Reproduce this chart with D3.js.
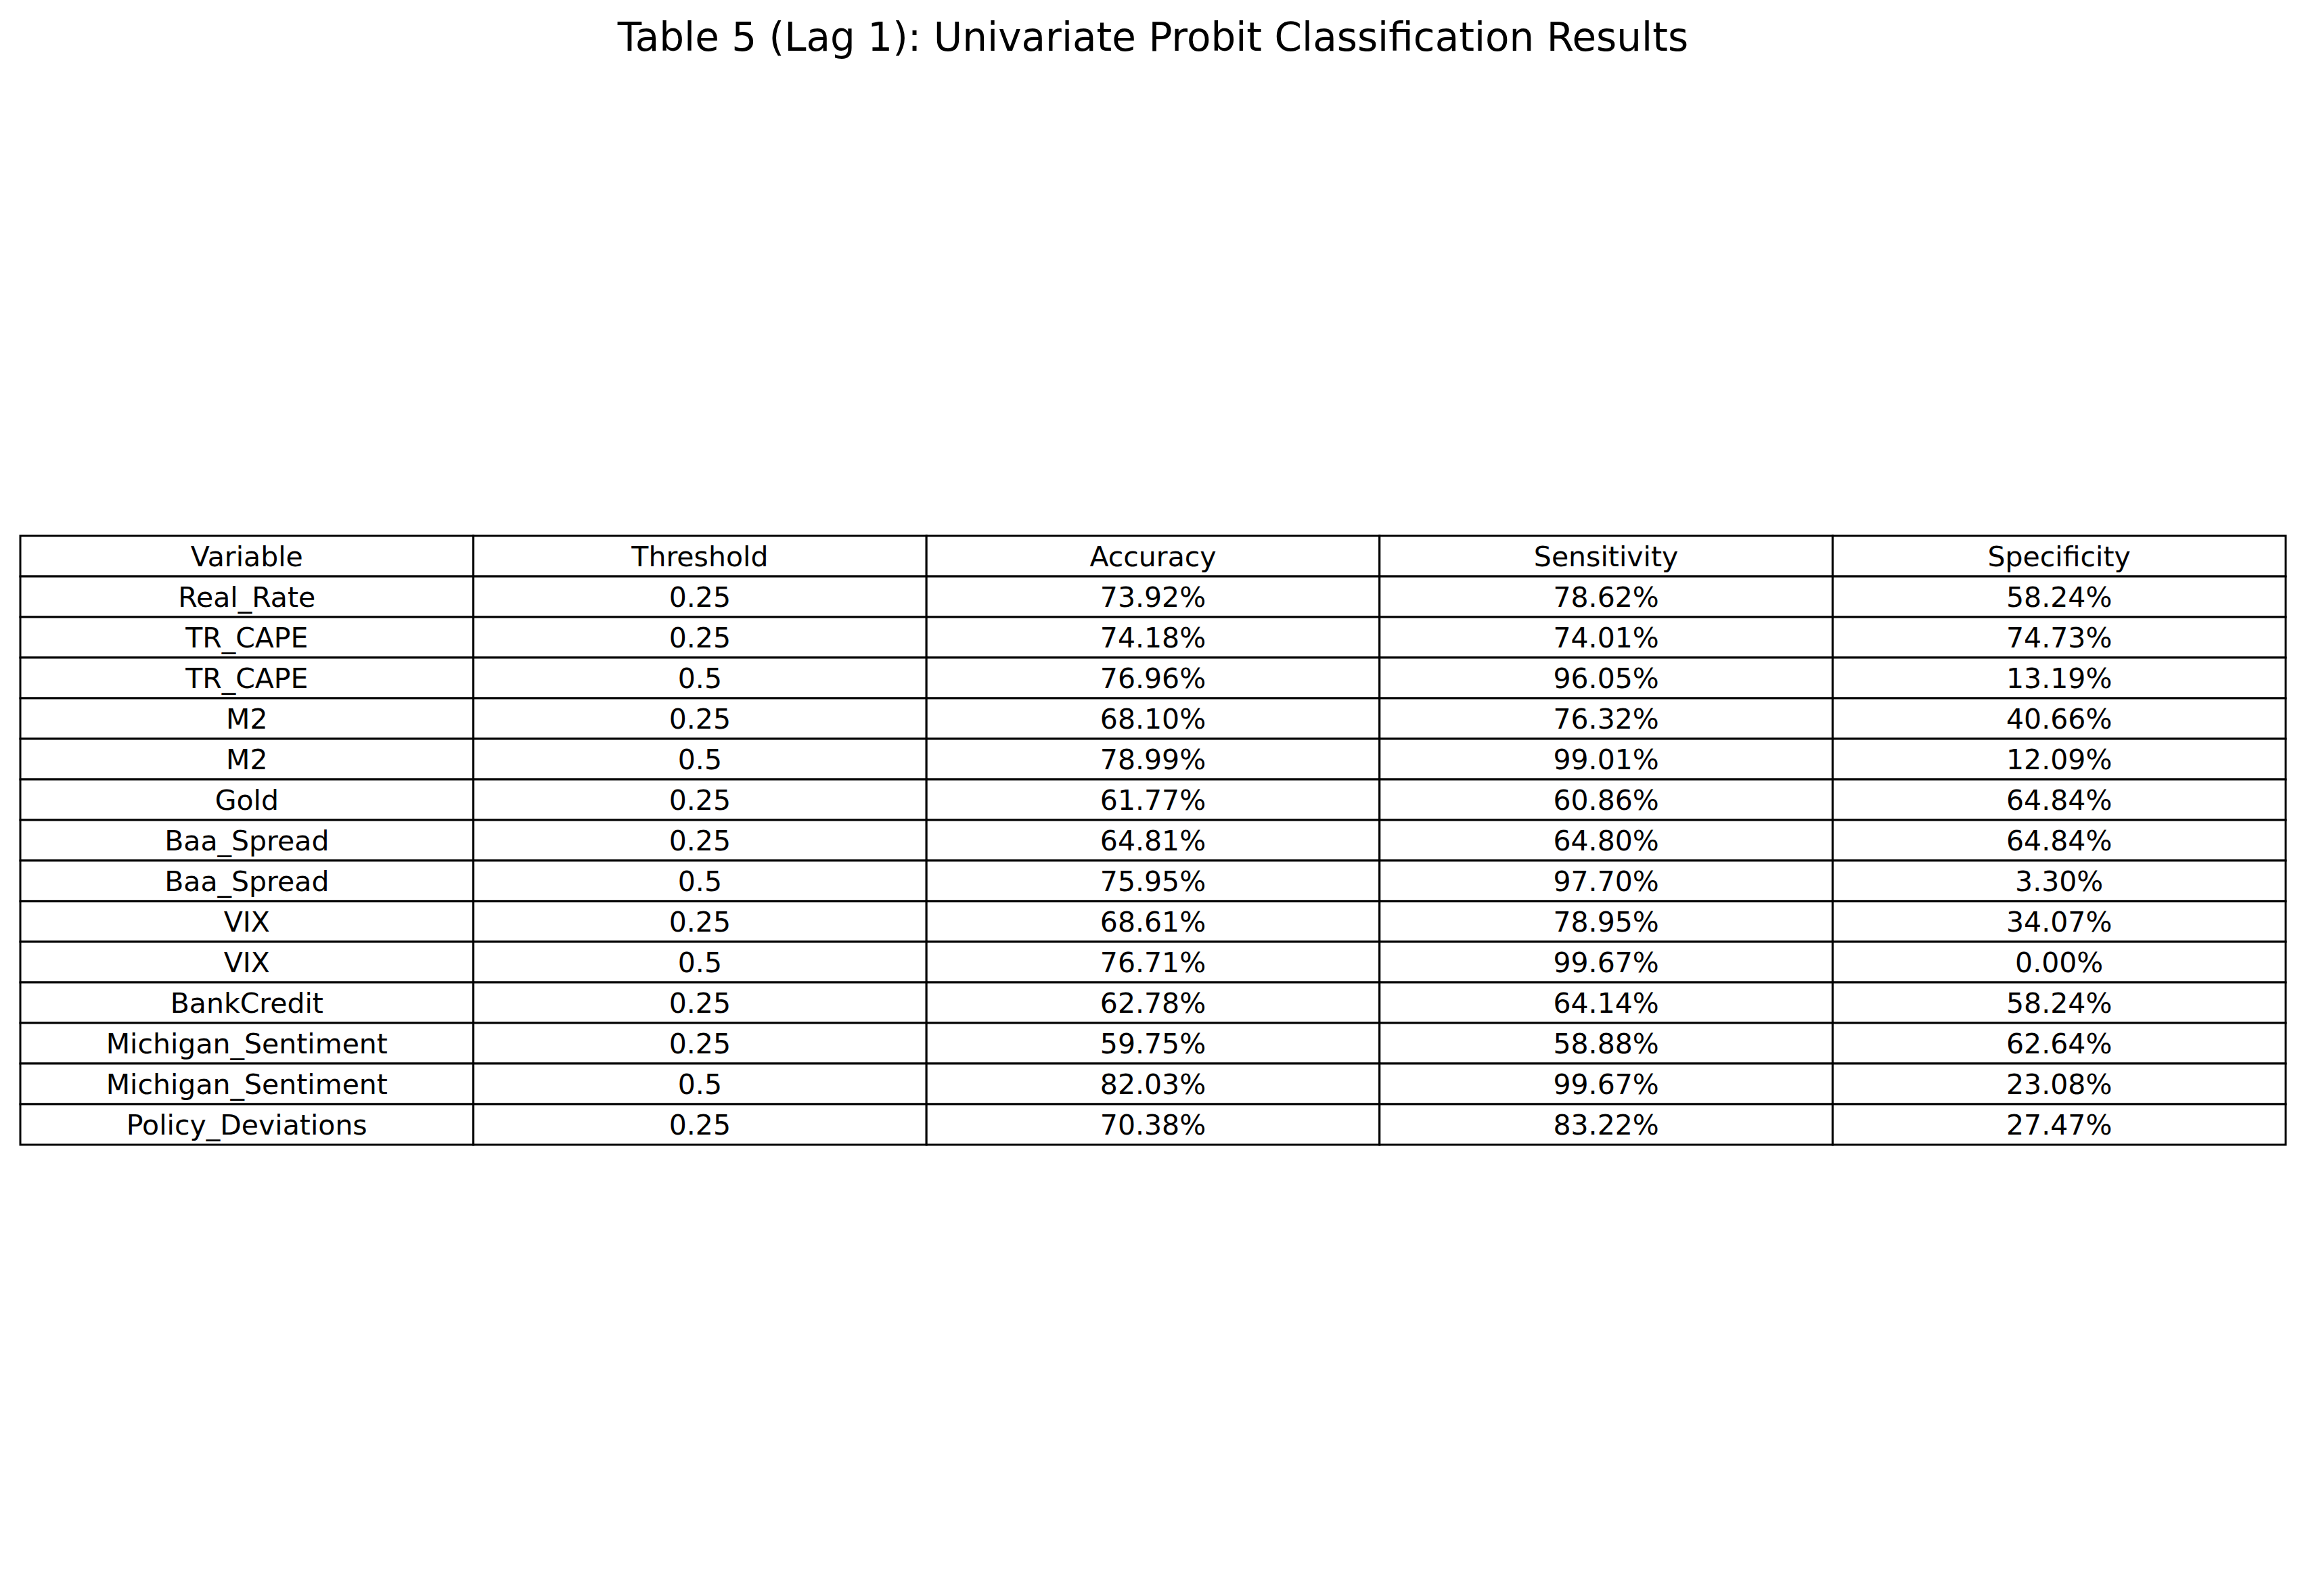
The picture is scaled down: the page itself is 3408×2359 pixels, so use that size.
<!DOCTYPE html>
<html>
<head>
<meta charset="utf-8">
<script src="https://cdn.jsdelivr.net/npm/d3@7"></script>
<style>body{margin:0;background:#fff;}</style>
</head>
<body>
<svg id="chart" width="3408" height="2359"></svg>
<script>
// table content
var columns = ["Variable", "Threshold", "Accuracy", "Sensitivity", "Specificity"];
var variables = ["Real_Rate", "TR_CAPE", "TR_CAPE", "M2", "M2", "Gold", "Baa_Spread", "Baa_Spread", "VIX", "VIX", "BankCredit", "Michigan_Sentiment", "Michigan_Sentiment", "Policy_Deviations"];
var thresholds = ["0.25", "0.25", "0.5", "0.25", "0.5", "0.25", "0.25", "0.5", "0.25", "0.5", "0.25", "0.25", "0.5", "0.25"];
var accuracy = ["73.92%", "74.18%", "76.96%", "68.10%", "78.99%", "61.77%", "64.81%", "75.95%", "68.61%", "76.71%", "62.78%", "59.75%", "82.03%", "70.38%"];
var sensitivity = ["78.62%", "74.01%", "96.05%", "76.32%", "99.01%", "60.86%", "64.80%", "97.70%", "78.95%", "99.67%", "64.14%", "58.88%", "99.67%", "83.22%"];
var specificity = ["58.24%", "74.73%", "13.19%", "40.66%", "12.09%", "64.84%", "64.84%", "3.30%", "34.07%", "0.00%", "58.24%", "62.64%", "23.08%", "27.47%"];

var rows = [columns].concat(variables.map(function (v, i) {
  return [v, thresholds[i], accuracy[i], sensitivity[i], specificity[i]];
}));

var svg = d3.select("#chart");
var font = "DejaVu Sans";

svg.append("text")
  .attr("x", 1704).attr("y", 75)
  .attr("text-anchor", "middle")
  .style("font-family", font).style("font-size", "58px")
  .text("Table 5 (Lag 1): Univariate Probit Classification Results");

var x = d3.scaleBand().domain(d3.range(columns.length)).range([30, 3378]);
var y = d3.scaleBand().domain(d3.range(rows.length)).range([792, 792 + 60 * rows.length]);

var cells = [];
rows.forEach(function (r, i) {
  r.forEach(function (t, j) { cells.push({ r: i, c: j, t: t }); });
});

var g = svg.append("g");
g.selectAll("rect").data(cells).enter().append("rect")
  .attr("x", d => x(d.c)).attr("y", d => y(d.r))
  .attr("width", x.bandwidth()).attr("height", y.bandwidth())
  .attr("fill", "#fff").attr("stroke", "#000").attr("stroke-width", 3);

g.selectAll("text").data(cells).enter().append("text")
  .attr("x", d => x(d.c) + x.bandwidth() / 2)
  .attr("y", d => y(d.r) + y.bandwidth() / 2)
  .attr("dy", "0.36em")
  .attr("text-anchor", "middle")
  .style("font-family", font).style("font-size", "41px")
  .text(d => d.t);
</script>
</body>
</html>
